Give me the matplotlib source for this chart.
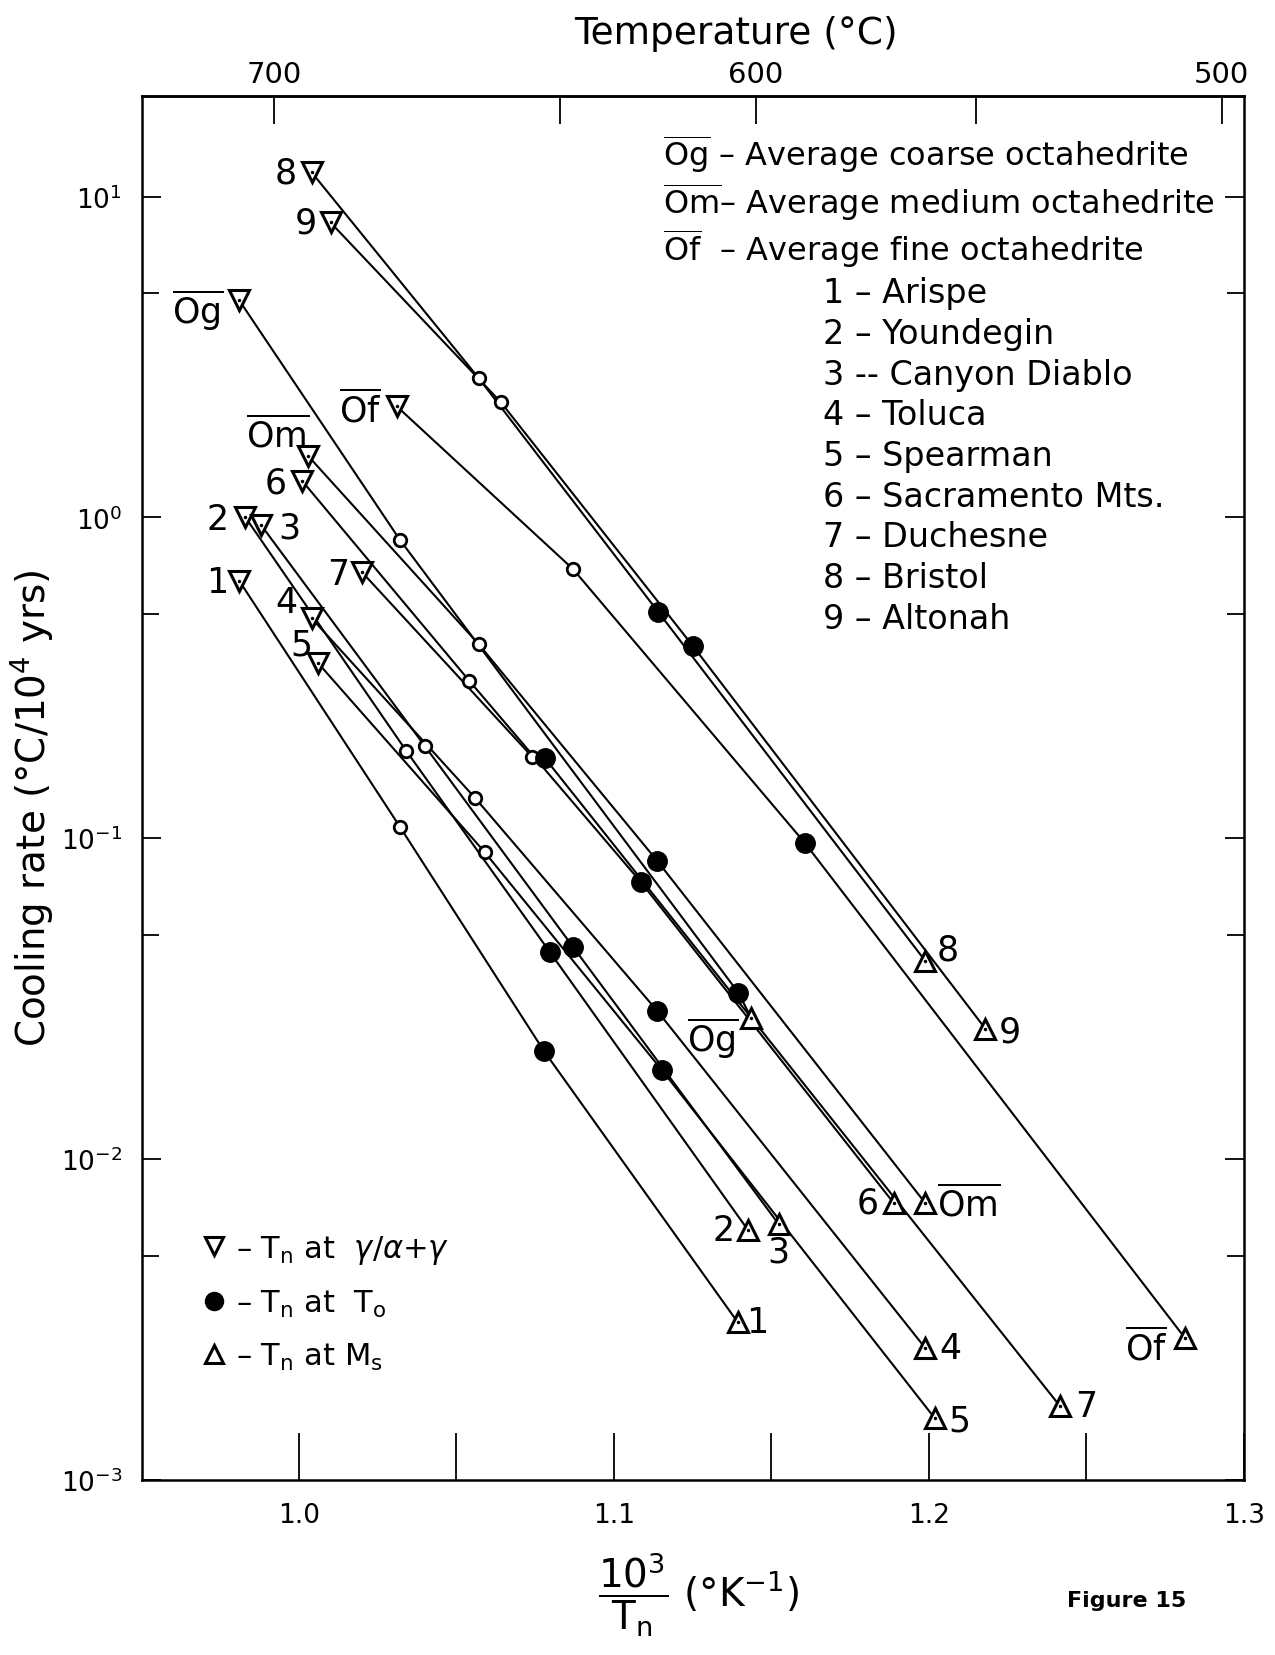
import matplotlib
matplotlib.use("Agg")
import matplotlib.pyplot as plt
from matplotlib.ticker import LogLocator, NullFormatter, FixedLocator
from matplotlib.lines import Line2D

plt.rcParams['font.family'] = ['DejaVu Sans']
plt.rcParams['mathtext.fontset'] = 'dejavusans'

# meteorite / average groups, one entry per curve
series_labels = ['8', '9', r'$\overline{\mathrm{Og}}$', r'$\overline{\mathrm{Of}}$',
                 r'$\overline{\mathrm{Om}}$', '6', '2', '3', '7', '1', '4', '5']

# Tn at gamma / alpha+gamma (open down triangles)
x_gamma = [1.004, 1.010, 0.981, 1.031, 1.003, 1.001, 0.983, 0.988, 1.020, 0.981, 1.004, 1.006]
rate_gamma = [11.9, 8.3, 4.75, 2.22, 1.55, 1.30, 1.00, 0.945, 0.675, 0.635, 0.485, 0.352]

# intermediate points (small open circles)
x_mid = [1.057, 1.064, 1.032, 1.087, 1.057, 1.054, 1.034, 1.040, 1.074, 1.032, 1.056, 1.059]
rate_mid = [2.72, 2.29, 0.852, 0.69, 0.403, 0.310, 0.1875, 0.1935, 0.1796, 0.1087, 0.1332, 0.0904]

# Tn at To (filled circles)
x_t0 = [1.114, 1.125, 1.1395, 1.1606, 1.1137, 1.1086, 1.0797, 1.0871, 1.0781, 1.0778, 1.1137, 1.1153]
rate_t0 = [0.508, 0.398, 0.033, 0.0967, 0.0851, 0.0729, 0.0441, 0.0457, 0.1775, 0.0217, 0.029, 0.0189]

# Tn at Ms (open up triangles)
x_ms = [1.1988, 1.2179, 1.1436, 1.2814, 1.1988, 1.1888, 1.1426, 1.1523, 1.2416, 1.1393, 1.1988, 1.2018]
rate_ms = [0.0415, 0.0255, 0.0275, 0.00276, 0.0073, 0.0073, 0.0060, 0.00627, 0.0017, 0.0031, 0.00258, 0.00156]

# label offsets (points) next to the start and end markers
gamma_dx = [-19, -17.5, -30, -26, -22, -19, -20, 20, -17.5, -16, -18, -12]
gamma_dy = [0, 0, -6, -1.5, 16, -1.5, -1, -1.5, -1.5, -1, 11.5, 13.5]
ms_dx = [16, 18, -28, -28, 31, -19, -18, 0, 19, 14, 18, 18]
ms_dy = [8, -2, -13, -6, 0, 0, 0, -20, 0, 0, 0, -2]

# top temperature scale
top_tick_x = [0.992, 1.083, 1.145, 1.215, 1.293]
top_tick_labels = ['700', '', '600', '', '500']

group_names = [r'$\overline{\mathrm{Og}}$ – Average coarse octahedrite',
               r'$\overline{\mathrm{Om}}$– Average medium octahedrite',
               r'$\overline{\mathrm{Of}}$  – Average fine octahedrite']
meteorite_names = ['1 – Arispe', '2 – Youndegin', '3 -- Canyon Diablo', '4 – Toluca',
                   '5 – Spearman', '6 – Sacramento Mts.', '7 – Duchesne',
                   '8 – Bristol', '9 – Altonah']

fig = plt.figure(figsize=(12.75, 16.56), dpi=100)
ax = fig.add_axes([0.111, 0.1057, 0.8646, 0.8356])
ax.set_yscale('log')
ax.set_xlim(0.95, 1.3)
ax.set_ylim(1e-3, 10 ** 1.3126)

lw = 1.5
for i in range(len(series_labels)):
    xs = [x_gamma[i], x_mid[i], x_t0[i], x_ms[i]]
    ys = [rate_gamma[i], rate_mid[i], rate_t0[i], rate_ms[i]]
    ax.plot(xs, ys, color='black', lw=lw, zorder=2)

ax.plot(x_gamma, rate_gamma, ls='none', marker='v', ms=15, mfc='white', mec='black', mew=2.2, zorder=4)
ax.plot(x_ms, rate_ms, ls='none', marker='^', ms=15, mfc='white', mec='black', mew=2.2, zorder=4)
ax.plot(x_gamma, rate_gamma, ls='none', marker='.', ms=3, color='black', zorder=5)
ax.plot(x_ms, rate_ms, ls='none', marker='.', ms=3, color='black', zorder=5)
ax.plot(x_mid, rate_mid, ls='none', marker='o', ms=9, mfc='white', mec='black', mew=2, zorder=4)
ax.plot(x_t0, rate_t0, ls='none', marker='o', ms=14, color='black', zorder=4)

for i, lab in enumerate(series_labels):
    ax.annotate(lab, (x_gamma[i], rate_gamma[i]), xytext=(gamma_dx[i], gamma_dy[i]),
                textcoords='offset points', ha='center', va='center', fontsize=25)
    ax.annotate(lab, (x_ms[i], rate_ms[i]), xytext=(ms_dx[i], ms_dy[i]),
                textcoords='offset points', ha='center', va='center', fontsize=25)

# axes, ticks
for sp in ax.spines.values():
    sp.set_linewidth(1.8)
ax.set_xticks([1.0, 1.1, 1.2, 1.3])
ax.set_xticklabels(['1.0', '1.1', '1.2', '1.3'])
ax.xaxis.set_minor_locator(FixedLocator([1.05, 1.15, 1.25]))
ax.tick_params(axis='x', which='both', direction='in', length=34, width=1.3,
               top=False, labelsize=19, pad=16)
ax.yaxis.set_major_locator(LogLocator(base=10, numticks=10))
ax.yaxis.set_minor_locator(LogLocator(base=10, subs=[5], numticks=10))
ax.yaxis.set_minor_formatter(NullFormatter())
ax.tick_params(axis='y', which='major', direction='in', length=14, width=1.3,
               right=True, labelsize=19, pad=14)
ax.tick_params(axis='y', which='minor', direction='in', length=12, width=1.3, right=True)

top = ax.secondary_xaxis('top')
top.set_xticks(top_tick_x, labels=top_tick_labels)
top.xaxis.set_minor_locator(FixedLocator([]))
top.tick_params(direction='in', length=20, width=1.3, labelsize=21, pad=6)
top.spines['top'].set_linewidth(1.8)

fig.text(0.577, 0.9795, 'Temperature (°C)', ha='center', va='center', fontsize=27)
fig.text(0.025, 0.512, r'Cooling rate (°C/10$^4$ yrs)', rotation=90,
         ha='center', va='center', fontsize=28)
fig.text(0.548, 0.037, r'$\dfrac{10^3}{\mathrm{T_n}}$ (°K$^{-1}$)', ha='center', va='center',
         fontsize=28)
fig.text(0.884, 0.0332, 'Figure 15', ha='center', va='center', fontsize=16, fontweight='bold')

# key to the curve labels
for k, txt in enumerate(group_names):
    ax.text(0.473, 0.958 - 0.0336 * k, txt, transform=ax.transAxes,
            ha='left', va='center', fontsize=23)
for k, txt in enumerate(meteorite_names):
    ax.text(0.618, 0.858 - 0.0294 * k, txt, transform=ax.transAxes,
            ha='left', va='center', fontsize=24)

# marker key
handles = [
    Line2D([], [], ls='none', marker='v', ms=13, mfc='white', mec='black', mew=2.2),
    Line2D([], [], ls='none', marker='o', ms=13, color='black'),
    Line2D([], [], ls='none', marker='^', ms=13, mfc='white', mec='black', mew=2.2),
]
ax.legend(handles, [r'– T$_\mathrm{n}$ at  $\gamma/\alpha$+$\gamma$',
                    r'– T$_\mathrm{n}$ at  T$_\mathrm{o}$',
                    r'– T$_\mathrm{n}$ at M$_\mathrm{s}$'],
          loc='lower left', bbox_to_anchor=(0.03, 0.058), frameon=False, fontsize=22,
          handlelength=0.8, handletextpad=0.3, labelspacing=0.72)

fig.savefig('out.png', dpi=100, facecolor='white')
